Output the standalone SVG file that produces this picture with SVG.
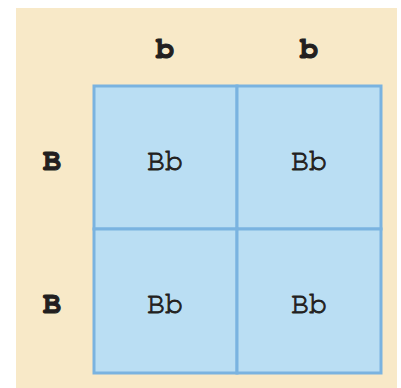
<svg xmlns="http://www.w3.org/2000/svg" width="401" height="388" viewBox="0 0 401 388">
<style>
.t{font-family:"Nimbus Mono PS","FreeMono","Courier 10 Pitch","Courier","Liberation Mono",monospace;font-size:30px;fill:#231f20;stroke:#231f20;stroke-width:0.9;text-anchor:middle}
.h{font-weight:bold;stroke-width:1.2}
.cell{fill:#badef3;stroke:#7ab3e0;stroke-width:3}
</style>
<rect x="0" y="0" width="401" height="388" fill="#ffffff"/>
<rect x="16" y="8" width="381" height="380" fill="#f8e9c8"/>
<g id="header-b1"><text class="t h" x="165" y="58">b</text></g>
<g id="header-b2"><text class="t h" x="309" y="58">b</text></g>
<g id="header-B1"><text class="t h" x="52" y="170">B</text></g>
<g id="header-B2"><text class="t h" x="52" y="313">B</text></g>
<g id="cell-11"><rect class="cell" x="94" y="86" width="143" height="143"/><text class="t" x="165" y="170">Bb</text></g>
<g id="cell-12"><rect class="cell" x="237" y="86" width="144" height="143"/><text class="t" x="309" y="170">Bb</text></g>
<g id="cell-21"><rect class="cell" x="94" y="229" width="143" height="144"/><text class="t" x="165" y="313">Bb</text></g>
<g id="cell-22"><rect class="cell" x="237" y="229" width="144" height="144"/><text class="t" x="309" y="313">Bb</text></g>
<g id="connectors"></g>
</svg>
